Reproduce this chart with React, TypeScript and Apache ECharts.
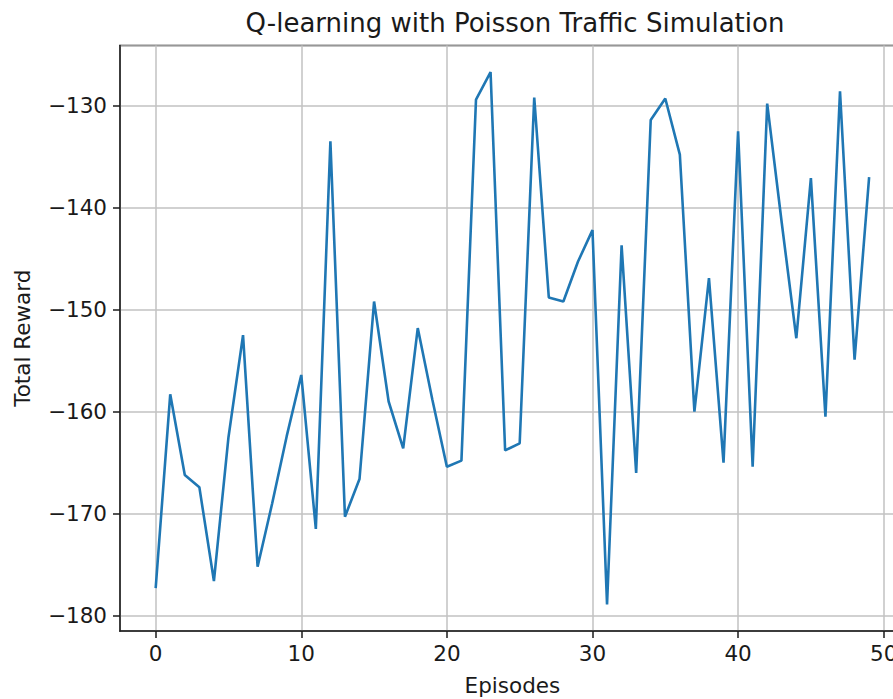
import React, { useEffect, useRef } from "react";
import * as echarts from "echarts";

const titleText = "Q-learning with Poisson Traffic Simulation";
const xAxisLabel = "Episodes";
const yAxisLabel = "Total Reward";

const episodes = [
  0, 1, 2, 3, 4, 5, 6, 7, 8, 9,
  10, 11, 12, 13, 14, 15, 16, 17, 18, 19,
  20, 21, 22, 23, 24, 25, 26, 27, 28, 29,
  30, 31, 32, 33, 34, 35, 36, 37, 38, 39,
  40, 41, 42, 43, 44, 45, 46, 47, 48, 49,
];

const totalRewards = [
  -177.3, -158.3, -166.2, -167.4, -176.6, -162.5, -152.5, -175.2, -169.0, -162.4,
  -156.4, -171.5, -133.5, -170.3, -166.6, -149.2, -159.0, -163.6, -151.8, -158.8,
  -165.4, -164.8, -129.4, -126.7, -163.8, -163.1, -129.2, -148.8, -149.2, -145.3,
  -142.2, -178.9, -143.7, -166.0, -131.4, -129.3, -134.8, -160.0, -146.9, -165.0,
  -132.5, -165.4, -129.8, -141.5, -152.8, -137.1, -160.5, -128.6, -154.9, -137.0,
];

const FONT = "DejaVu Sans";

const fmt = (v: number) => String(v).replace("-", "\u2212");

export default function App() {
  const ref = useRef<HTMLDivElement>(null);

  useEffect(() => {
    if (!ref.current) return;
    const chart = echarts.init(ref.current, undefined, { renderer: "svg" });
    const seriesData = episodes.map((e, i) => [e, totalRewards[i]]);
    chart.setOption({
      animation: false,
      backgroundColor: "#ffffff",
      textStyle: { fontFamily: FONT },
      title: {
        text: titleText,
        left: 510,
        textAlign: "center",
        top: 5,
        textStyle: { fontFamily: FONT, fontSize: 26, fontWeight: "normal", color: "#1a1a1a" },
      },
      grid: {
        left: 120,
        top: 45.4,
        width: 784.8,
        height: 585.7,
        show: true,
        borderColor: "#1a1a1a",
        borderWidth: 1.5,
        backgroundColor: "transparent",
        containLabel: false,
        outerBoundsMode: "none",
      },
      xAxis: {
        type: "value",
        min: (v: any) => v.min - 0.05 * (v.max - v.min),
        max: (v: any) => v.max + 0.05 * (v.max - v.min),
        splitNumber: 5,
        name: xAxisLabel,
        nameLocation: "middle",
        nameGap: 43,
        nameTextStyle: { fontFamily: FONT, fontSize: 21.5, color: "#1a1a1a" },
        axisLine: { show: true, onZero: false, lineStyle: { color: "#1a1a1a", width: 1.5 } },
        axisTick: { show: true, length: 7, lineStyle: { color: "#1a1a1a", width: 1.5 } },
        axisLabel: {
          showMinLabel: false,
          showMaxLabel: false,
          margin: 11,
          fontFamily: FONT,
          fontSize: 21.5,
          color: "#1a1a1a",
          formatter: fmt,
        },
        splitLine: { show: true, lineStyle: { color: "#c2c2c2", width: 1.5 } },
      },
      yAxis: {
        type: "value",
        min: (v: any) => v.min - 0.05 * (v.max - v.min),
        max: (v: any) => v.max + 0.05 * (v.max - v.min),
        splitNumber: 5,
        name: yAxisLabel,
        nameLocation: "middle",
        nameGap: 87,
        nameRotate: 90,
        nameTextStyle: { fontFamily: FONT, fontSize: 21.5, color: "#1a1a1a" },
        axisLine: { show: true, onZero: false, lineStyle: { color: "#1a1a1a", width: 1.5 } },
        axisTick: { show: true, length: 7, lineStyle: { color: "#1a1a1a", width: 1.5 } },
        axisLabel: {
          showMinLabel: false,
          showMaxLabel: false,
          margin: 13,
          fontFamily: FONT,
          fontSize: 21.5,
          color: "#1a1a1a",
          formatter: fmt,
        },
        splitLine: { show: true, lineStyle: { color: "#c2c2c2", width: 1.5 } },
      },
      series: [
        {
          type: "line",
          data: seriesData,
          showSymbol: false,
          symbol: "none",
          clip: true,
          lineStyle: { color: "#1f77b4", width: 2.6 },
          itemStyle: { color: "#1f77b4" },
        },
      ],
    });
    return () => chart.dispose();
  }, []);

  return <div ref={ref} style={{ width: 893, height: 699, position: "absolute", left: 0, top: 0 }} />;
}
